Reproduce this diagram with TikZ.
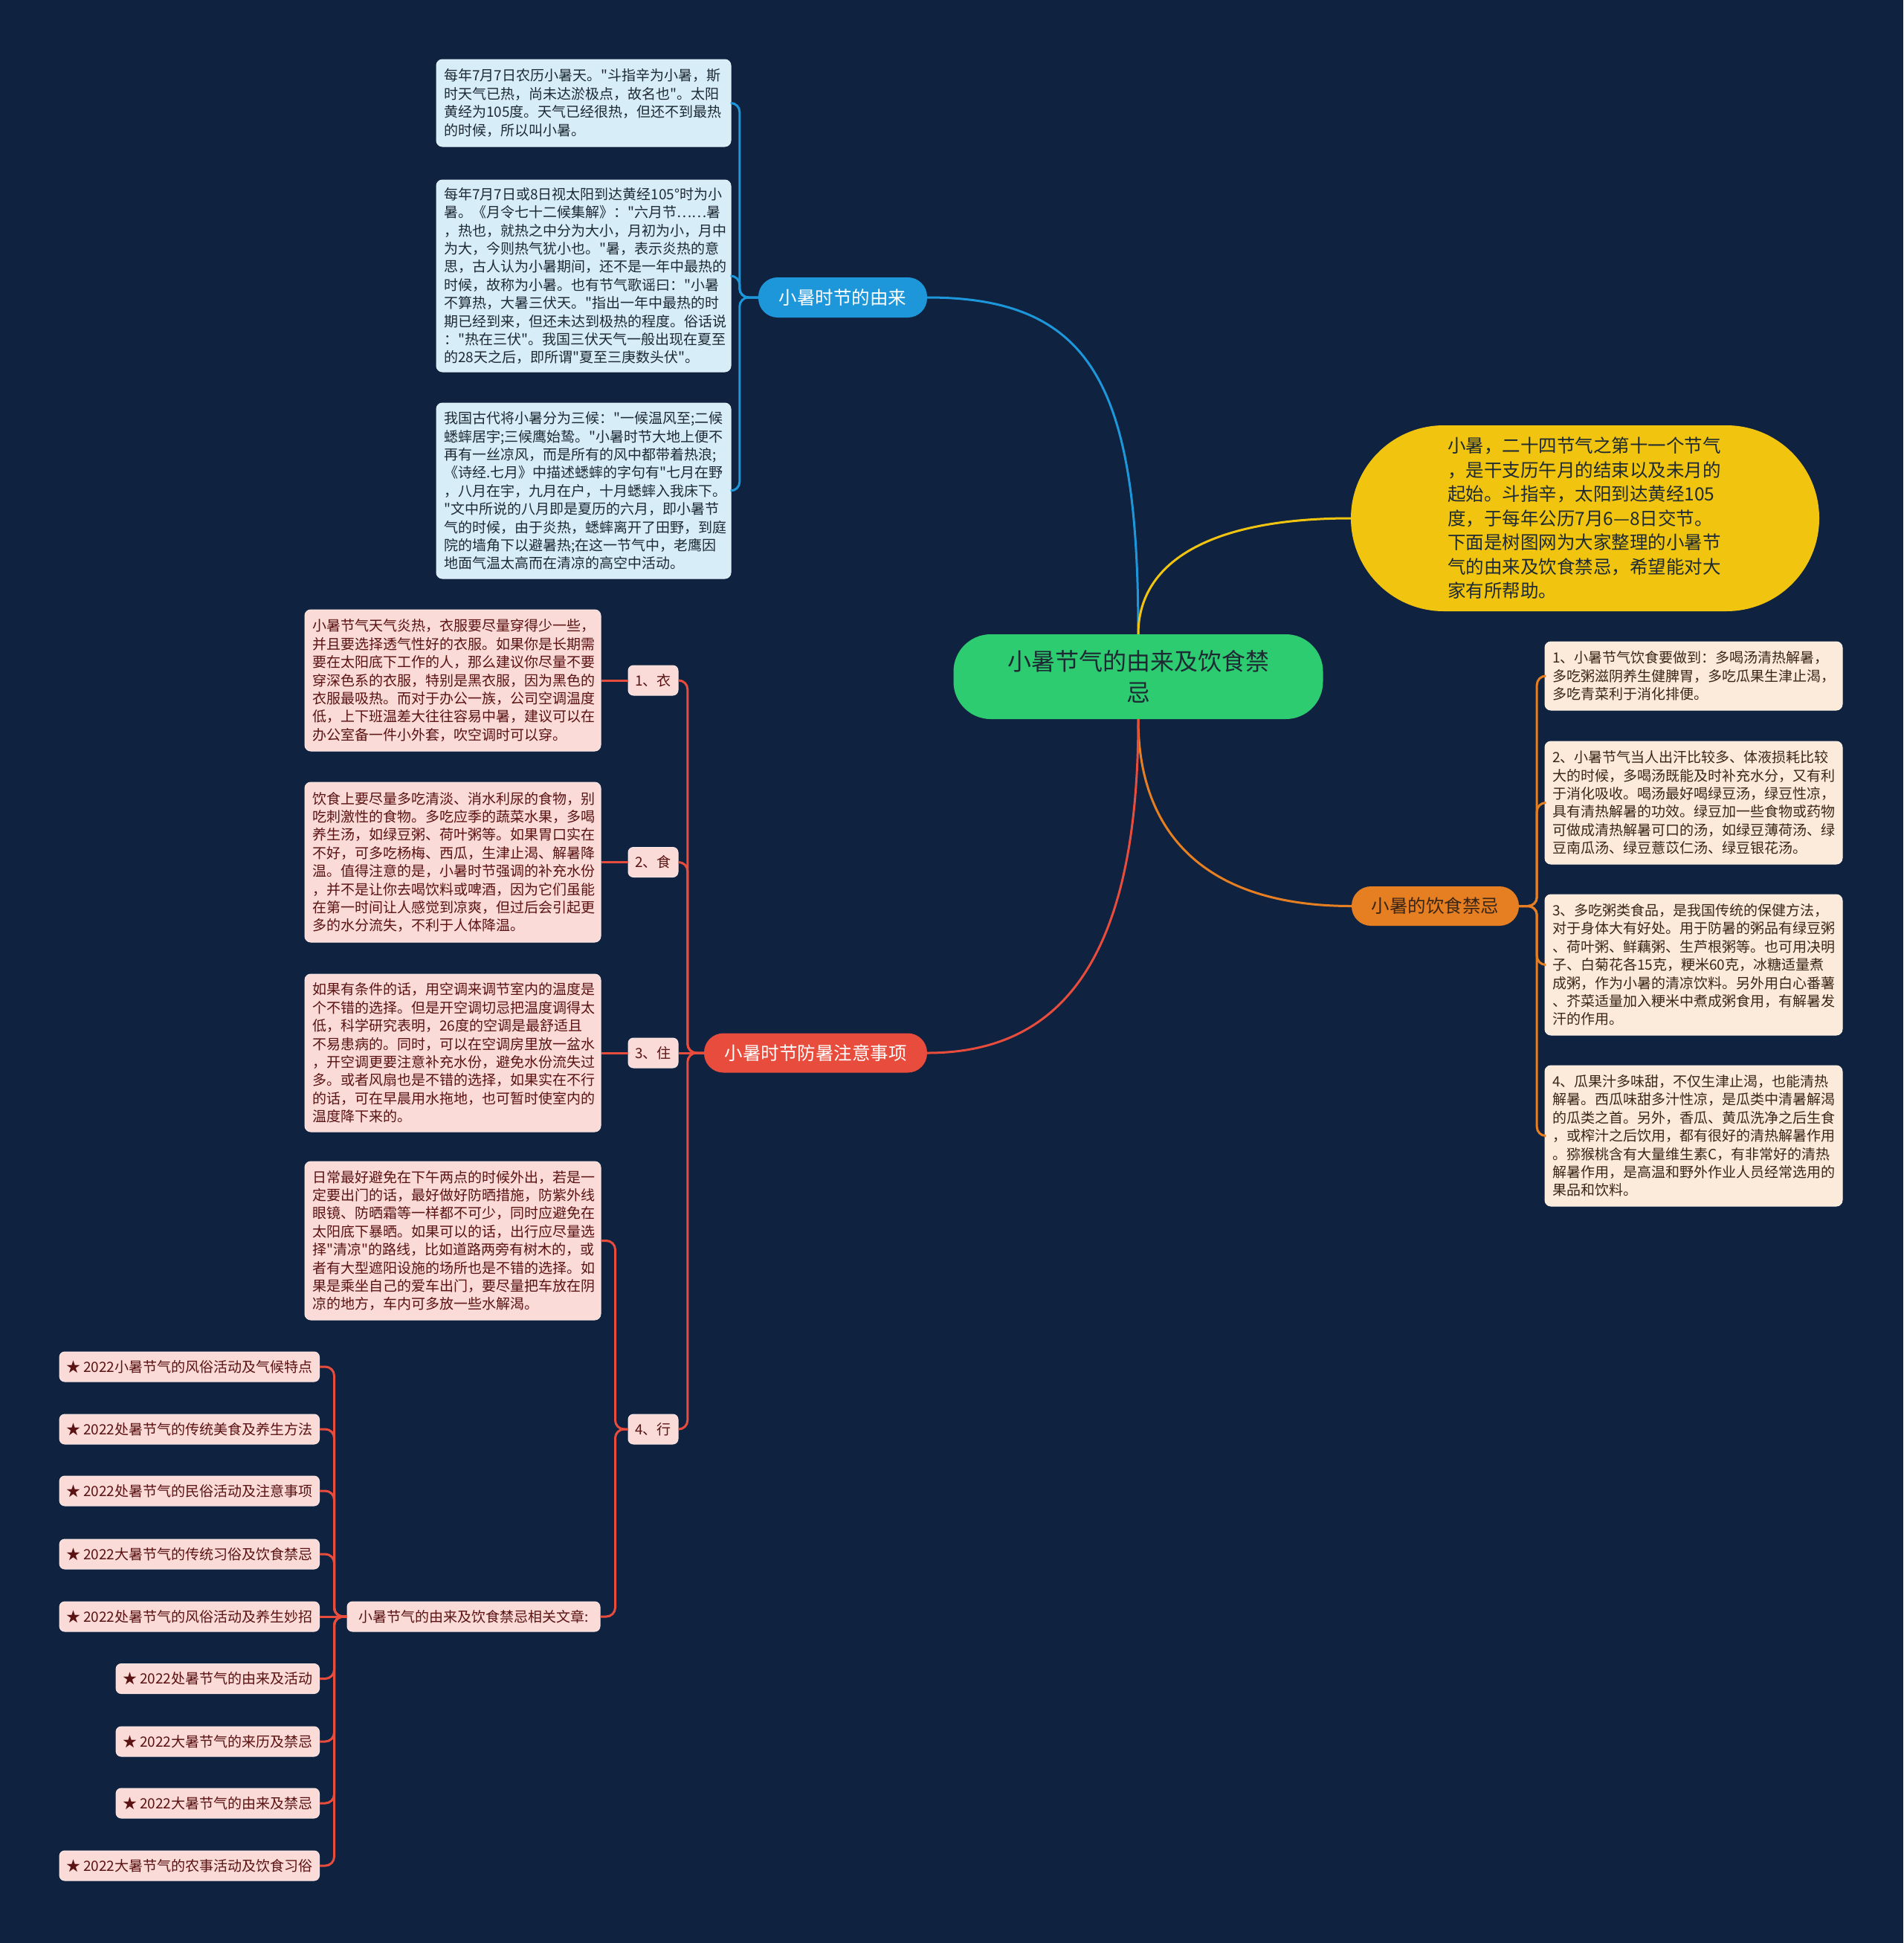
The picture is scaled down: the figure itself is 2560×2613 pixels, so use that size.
\documentclass[tikz,border=0pt]{standalone}
\usepackage{fontspec}
\setmainfont{Noto Sans CJK SC}[Ligatures=TeXOff]
\definecolor{bgc}{HTML}{0F2240}
\definecolor{greenc}{HTML}{2ECC71}
\definecolor{bluec}{HTML}{1E97DA}
\definecolor{bluel}{HTML}{D7EDF8}
\definecolor{yellowc}{HTML}{F1C40F}
\definecolor{orangec}{HTML}{E67E22}
\definecolor{orangel}{HTML}{FCEBDA}
\definecolor{redc}{HTML}{E74C3C}
\definecolor{redl}{HTML}{FADBD8}
\definecolor{darkt}{HTML}{1E2A33}
\definecolor{brownt}{HTML}{3A2616}
\definecolor{maroont}{HTML}{5A1212}
\tikzset{
  leafbox/.style={rounded corners=8pt, inner xsep=10pt, inner ysep=0pt, align=left,
    font=\fontsize{19}{24.4}\selectfont},
  blueleaf/.style={leafbox, fill=bluel, draw=bluel!70!white, line width=1pt, text=darkt},
  orangeleaf/.style={leafbox, fill=orangel, draw=orangel!70!white, line width=1pt, text=brownt},
  redleaf/.style={leafbox, fill=redl, draw=redl!70!white, line width=1pt, text=maroont},
  pill/.style={rounded corners=26pt, inner sep=0pt, font=\fontsize{24.5}{30}\selectfont},
  smallbox/.style={rounded corners=7pt, fill=redl, draw=redl!70!white, line width=1pt, text=maroont,
    inner xsep=9pt, inner ysep=0pt, minimum height=40pt, font=\fontsize{19}{24}\selectfont},
  conn/.style={line width=3pt},
  elbow/.style={line width=3pt, rounded corners=12pt},
}
\begin{document}
\begin{tikzpicture}[x=1pt,y=-1pt]
\fill[bgc] (0,0) rectangle (2560,2613);
\useasboundingbox (0,0) rectangle (2560,2613);

% central
\node[fill=greenc, rounded corners=50pt, minimum width=497pt, minimum height=114pt, inner sep=0pt,
  align=center, text=darkt, font=\fontsize{32}{42}\selectfont] (c) at (1531,910)
  {小暑节气的由来及饮食禁\\忌};

% blue branch
\node[pill, fill=bluec, text=white, minimum width=227pt, minimum height=54pt] (b) at (1133.5,400) {小暑时节的由来};
\node[blueleaf, text width=376pt, minimum height=117pt] (b1) at (785,138.5)
{每年7月7日农历小暑天。"斗指辛为小暑，斯\\
时天气已热，尚未达淤极点，故名也"。太阳\\
黄经为105度。天气已经很热，但还不到最热\\
的时候，所以叫小暑。};
\node[blueleaf, text width=376pt, minimum height=258pt] (b2) at (785,371)
{每年7月7日或8日视太阳到达黄经105°时为小\\
暑。《月令七十二候集解》："六月节……暑\\
，热也，就热之中分为大小，月初为小，月中\\
为大，今则热气犹小也。"暑，表示炎热的意\\
思，古人认为小暑期间，还不是一年中最热的\\
时候，故称为小暑。也有节气歌谣曰："小暑\\
不算热，大暑三伏天。"指出一年中最热的时\\
期已经到来，但还未达到极热的程度。俗话说\\
："热在三伏"。我国三伏天气一般出现在夏至\\
的28天之后，即所谓"夏至三庚数头伏"。};
\node[blueleaf, text width=376pt, minimum height=236pt] (b3) at (785,660)
{我国古代将小暑分为三候："一候温风至;二候\\
蟋蟀居宇;三候鹰始鸷。"小暑时节大地上便不\\
再有一丝凉风，而是所有的风中都带着热浪;\\
《诗经.七月》中描述蟋蟀的字句有"七月在野\\
，八月在宇，九月在户，十月蟋蟀入我床下。\\
"文中所说的八月即是夏历的六月，即小暑节\\
气的时候，由于炎热，蟋蟀离开了田野，到庭\\
院的墙角下以避暑热;在这一节气中，老鹰因\\
地面气温太高而在清凉的高空中活动。};

% yellow
\node[fill=yellowc, rounded corners=125pt, minimum width=630pt, minimum height=250pt, inner sep=0pt,
  text width=370pt, align=left, text=darkt, font=\fontsize{24.5}{32.5}\selectfont] (y) at (2132,697)
{小暑，二十四节气之第十一个节气\\
，是干支历午月的结束以及未月的\\
起始。斗指辛，太阳到达黄经105\\
度，于每年公历7月6—8日交节。\\
下面是树图网为大家整理的小暑节\\
气的由来及饮食禁忌，希望能对大\\
家有所帮助。};

% orange branch
\node[pill, fill=orangec, text=brownt, minimum width=225pt, minimum height=53pt] (o) at (1930.5,1218.5) {小暑的饮食禁忌};
\node[orangeleaf, text width=380pt, minimum height=92pt] (o1) at (2278,909)
{1、小暑节气饮食要做到：多喝汤清热解暑，\\
多吃粥滋阴养生健脾胃，多吃瓜果生津止渴，\\
多吃青菜利于消化排便。};
\node[orangeleaf, text width=380pt, minimum height=165pt] (o2) at (2278,1079.5)
{2、小暑节气当人出汗比较多、体液损耗比较\\
大的时候，多喝汤既能及时补充水分，又有利\\
于消化吸收。喝汤最好喝绿豆汤，绿豆性凉，\\
具有清热解暑的功效。绿豆加一些食物或药物\\
可做成清热解暑可口的汤，如绿豆薄荷汤、绿\\
豆南瓜汤、绿豆薏苡仁汤、绿豆银花汤。};
\node[orangeleaf, text width=380pt, minimum height=189pt] (o3) at (2278,1297.5)
{3、多吃粥类食品，是我国传统的保健方法，\\
对于身体大有好处。用于防暑的粥品有绿豆粥\\
、荷叶粥、鲜藕粥、生芦根粥等。也可用决明\\
子、白菊花各15克，粳米60克，冰糖适量煮\\
成粥，作为小暑的清凉饮料。另外用白心番薯\\
、芥菜适量加入粳米中煮成粥食用，有解暑发\\
汗的作用。};
\node[orangeleaf, text width=380pt, minimum height=189pt] (o4) at (2278,1527.5)
{4、瓜果汁多味甜，不仅生津止渴，也能清热\\
解暑。西瓜味甜多汁性凉，是瓜类中清暑解渴\\
的瓜类之首。另外，香瓜、黄瓜洗净之后生食\\
，或榨汁之后饮用，都有很好的清热解暑作用\\
。猕猴桃含有大量维生素C，有非常好的清热\\
解暑作用，是高温和野外作业人员经常选用的\\
果品和饮料。};

% red branch
\node[pill, fill=redc, text=white, minimum width=300pt, minimum height=53pt] (r) at (1097,1416) {小暑时节防暑注意事项};
\node[smallbox, minimum width=67pt] (s1) at (878.5,915) {1、衣};
\node[smallbox, minimum width=67pt] (s2) at (878.5,1159.5) {2、食};
\node[smallbox, minimum width=67pt] (s3) at (878.5,1416) {3、住};
\node[smallbox, minimum width=67pt] (s4) at (878.5,1922) {4、行};

\node[redleaf, text width=378pt, minimum height=190pt] (p1) at (609,915)
{小暑节气天气炎热，衣服要尽量穿得少一些，\\
并且要选择透气性好的衣服。如果你是长期需\\
要在太阳底下工作的人，那么建议你尽量不要\\
穿深色系的衣服，特别是黑衣服，因为黑色的\\
衣服最吸热。而对于办公一族，公司空调温度\\
低，上下班温差大往往容易中暑，建议可以在\\
办公室备一件小外套，吹空调时可以穿。};
\node[redleaf, text width=378pt, minimum height=215pt] (p2) at (609,1159.5)
{饮食上要尽量多吃清淡、消水利尿的食物，别\\
吃刺激性的食物。多吃应季的蔬菜水果，多喝\\
养生汤，如绿豆粥、荷叶粥等。如果胃口实在\\
不好，可多吃杨梅、西瓜，生津止渴、解暑降\\
温。值得注意的是，小暑时节强调的补充水份\\
，并不是让你去喝饮料或啤酒，因为它们虽能\\
在第一时间让人感觉到凉爽，但过后会引起更\\
多的水分流失，不利于人体降温。};
\node[redleaf, text width=378pt, minimum height=212pt] (p3) at (609,1416)
{如果有条件的话，用空调来调节室内的温度是\\
个不错的选择。但是开空调切忌把温度调得太\\
低，科学研究表明，26度的空调是最舒适且\\
不易患病的。同时，可以在空调房里放一盆水\\
，开空调更要注意补充水份，避免水份流失过\\
多。或者风扇也是不错的选择，如果实在不行\\
的话，可在早晨用水拖地，也可暂时使室内的\\
温度降下来的。};
\node[redleaf, text width=378pt, minimum height=213pt] (p4) at (609,1668.5)
{日常最好避免在下午两点的时候外出，若是一\\
定要出门的话，最好做好防晒措施，防紫外线\\
眼镜、防晒霜等一样都不可少，同时应避免在\\
太阳底下暴晒。如果可以的话，出行应尽量选\\
择"清凉"的路线，比如道路两旁有树木的，或\\
者有大型遮阳设施的场所也是不错的选择。如\\
果是乘坐自己的爱车出门，要尽量把车放在阴\\
凉的地方，车内可多放一些水解渴。};

\node[smallbox, minimum width=340pt] (rel) at (637,2174) {小暑节气的由来及饮食禁忌相关文章:};
\node[smallbox, anchor=east] (i1) at (430,1838) {★ 2022小暑节气的风俗活动及气候特点};
\node[smallbox, anchor=east] (i2) at (430,1922) {★ 2022处暑节气的传统美食及养生方法};
\node[smallbox, anchor=east] (i3) at (430,2005) {★ 2022处暑节气的民俗活动及注意事项};
\node[smallbox, anchor=east] (i4) at (430,2090) {★ 2022大暑节气的传统习俗及饮食禁忌};
\node[smallbox, anchor=east] (i5) at (430,2174) {★ 2022处暑节气的风俗活动及养生妙招};
\node[smallbox, anchor=east] (i6) at (430,2257.5) {★ 2022处暑节气的由来及活动};
\node[smallbox, anchor=east] (i7) at (430,2342) {★ 2022大暑节气的来历及禁忌};
\node[smallbox, anchor=east] (i8) at (430,2425) {★ 2022大暑节气的由来及禁忌};
\node[smallbox, anchor=east] (i9) at (430,2509) {★ 2022大暑节气的农事活动及饮食习俗};

% main connectors
\draw[conn, bluec] (c.north) .. controls (1531,520) and (1470,400) .. (b.east);
\draw[conn, yellowc] (c.north) .. controls (1531,760) and (1620,697) .. (y.west);
\draw[conn, orangec] (c.south) .. controls (1531,1120) and (1620,1218.5) .. (o.west);
\draw[conn, redc] (c.south) .. controls (1531,1300) and (1420,1416) .. (r.east);

% blue elbows
\foreach \t in {b1,b2,b3} \draw[elbow, bluec] (b.west) -- ++(-25,0) |- (\t.east);
% orange elbows
\foreach \t in {o1,o2,o3,o4} \draw[elbow, orangec] (o.east) -- ++(24,0) |- (\t.west);
% red elbows
\foreach \t in {s1,s2,s4} \draw[elbow, redc] (r.west) -- ++(-22,0) |- (\t.east);
\draw[elbow, redc] (r.west) -- (s3.east);
\draw[elbow, redc] (s1.west) -- (p1.east);
\draw[elbow, redc] (s2.west) -- (p2.east);
\draw[elbow, redc] (s3.west) -- (p3.east);
\draw[elbow, redc] (s4.west) -- ++(-17,0) |- (p4.east);
\draw[elbow, redc] (s4.west) -- ++(-17,0) |- (rel.east);
\foreach \t in {i1,i2,i3,i4,i6,i7,i8,i9} \draw[elbow, redc] (rel.west) -- ++(-17,0) |- (\t.east);
\draw[elbow, redc] (rel.west) -- (i5.east);
\end{tikzpicture}
\end{document}
